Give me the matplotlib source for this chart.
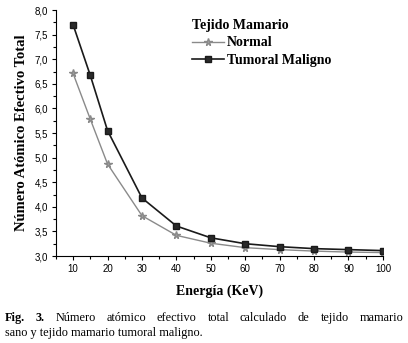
import numpy as np
import matplotlib.pyplot as plt
from matplotlib.ticker import MultipleLocator

energia = [10, 15, 20, 30, 40, 50, 60, 70, 80, 90, 100]
normal = [6.71, 5.78, 4.87, 3.82, 3.42, 3.26, 3.17, 3.13, 3.10, 3.08, 3.07]
tumoral = [7.70, 6.67, 5.55, 4.18, 3.61, 3.37, 3.25, 3.19, 3.15, 3.13, 3.11]

serif = 'Liberation Serif'
sans = 'Liberation Sans'

fig = plt.figure(figsize=(4.08, 3.43), dpi=100)
ax = fig.add_axes([0.137, 0.2536, 0.8015, 0.7172])

ax.plot(energia, normal, color='#8a8a8a', lw=1.0, marker='*', ms=5.5,
        mfc='#a0a0a0', mec='#8a8a8a', label='Normal')
ax.plot(energia, tumoral, color='#1a1a1a', lw=1.2, marker='s', ms=4.5,
        mfc='#2a2a2a', mec='#1a1a1a', label='Tumoral Maligno')

ax.set_xlim(5, 100)
ax.set_ylim(3.0, 8.0)
ax.xaxis.set_minor_locator(MultipleLocator(5))
ax.yaxis.set_major_locator(MultipleLocator(0.5))
ax.yaxis.set_minor_locator(MultipleLocator(0.25))
ax.set_xticks(range(10, 101, 10))
ax.yaxis.set_major_formatter(lambda v, p: ('%.1f' % v).replace('.', ','))
for s in ['top', 'right']:
    ax.spines[s].set_visible(False)
ax.tick_params(which='both', direction='out', labelsize=7, width=0.8, pad=2.5)
ax.tick_params(which='major', length=3)
ax.tick_params(which='minor', length=2)
for lab in ax.get_xticklabels() + ax.get_yticklabels():
    lab.set_fontfamily(sans)

ax.set_xlabel('Energía (KeV)', fontfamily=serif, fontweight='bold', fontsize=10, labelpad=8)
ax.set_ylabel('Número Atómico Efectivo Total', fontfamily=serif, fontweight='bold',
              fontsize=10.5, labelpad=5)

leg = ax.legend(title='Tejido Mamario', loc='upper left', bbox_to_anchor=(0.40, 0.985),
                frameon=False, handlelength=2.3, handletextpad=0.2, labelspacing=0.3,
                borderaxespad=0, prop={'family': serif, 'weight': 'bold', 'size': 10})
leg.get_title().set_fontfamily(serif)
leg.get_title().set_fontweight('bold')
leg.get_title().set_fontsize(10)
leg._legend_box.align = 'left'

# caption, first line justified
fig.canvas.draw()
r = fig.canvas.get_renderer()
words = ['Fig.', '3.', 'Número', 'atómico', 'efectivo', 'total', 'calculado', 'de',
         'tejido', 'mamario']
x0, x1 = 5 / 408, 403 / 408
y1 = 1 - 321 / 343
arts = []
for i, w in enumerate(words):
    t = fig.text(0, y1, w, fontfamily=serif, fontsize=8.8,
                 fontweight='bold' if i < 2 else 'normal', va='baseline')
    arts.append(t)
widths = [a.get_window_extent(r).width / fig.bbox.width for a in arts]
gap = (x1 - x0 - sum(widths)) / (len(words) - 1)
x = x0
for a, w in zip(arts, widths):
    a.set_x(x)
    x += w + gap
fig.text(x0, 1 - 336 / 343, 'sano y tejido mamario tumoral maligno.', fontfamily=serif,
         fontsize=8.8, va='baseline')

fig.savefig('out.png', dpi=100)
